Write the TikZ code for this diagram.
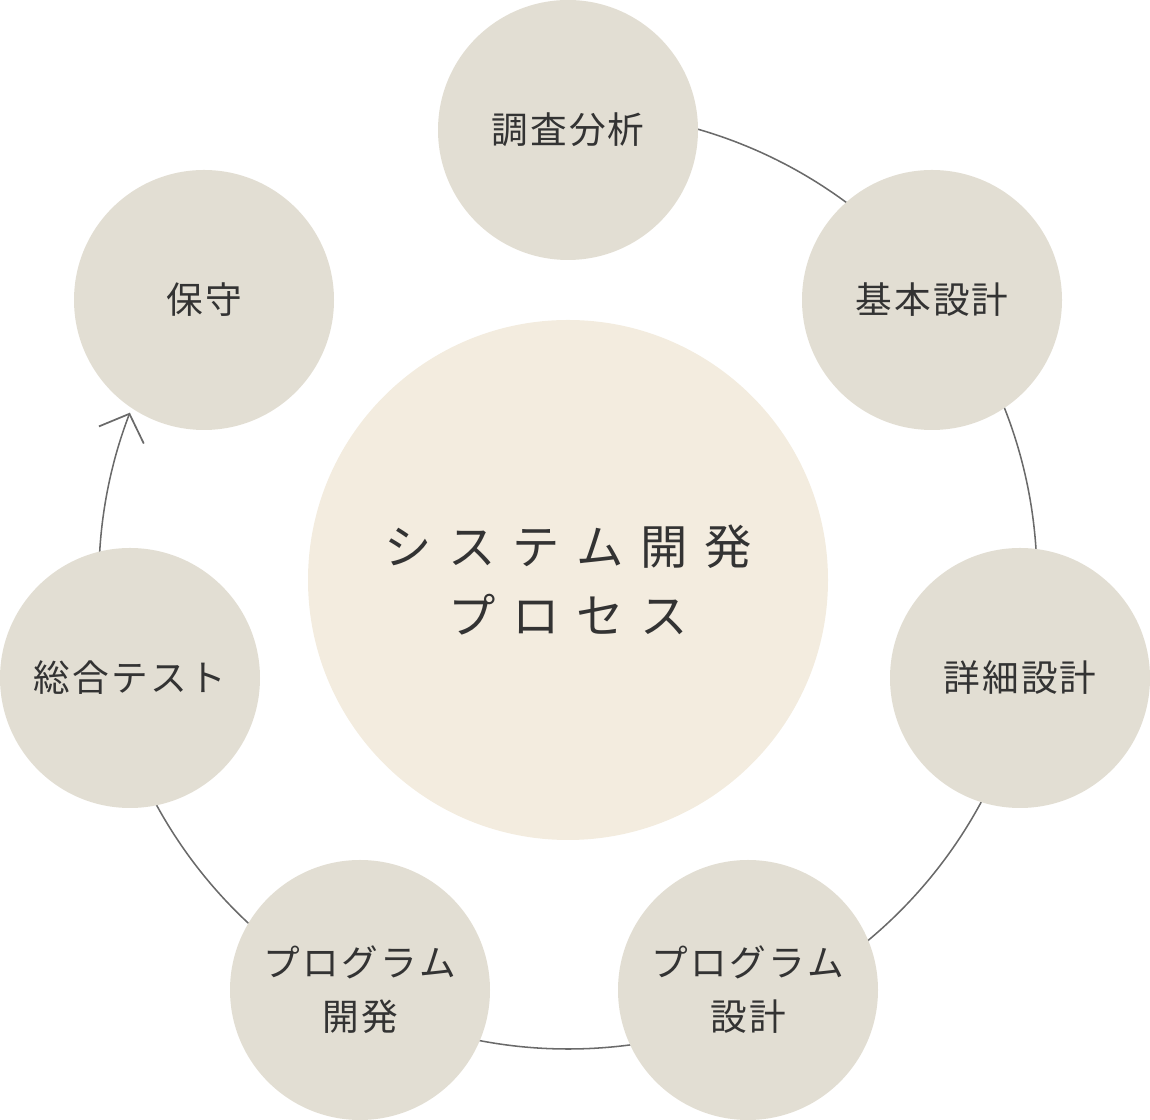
\documentclass[tikz,border=0pt]{standalone}
\usepackage{fontspec}
\newfontfamily\jpfont{Noto Sans CJK JP}
\usetikzlibrary{arrows.meta}
\definecolor{stepfill}{HTML}{E2DED3}
\definecolor{hubfill}{HTML}{F3ECDF}
\definecolor{txt}{HTML}{333333}
\definecolor{ringcol}{HTML}{6A6A6A}
\newcommand\wgap{\hspace{0.35em}}
\newcommand\ngap{\hspace{0.06em}}
\begin{document}
\begin{tikzpicture}[x=0.75pt,y=0.75pt,
  stepnode/.style={circle,fill=stepfill,minimum size=195pt,inner sep=0pt,align=center,
    text=txt,font=\jpfont\fontsize{27.5}{40.5}\selectfont},
  hubnode/.style={circle,fill=hubfill,minimum size=390pt,inner sep=0pt,align=center,
    text=txt,font=\jpfont\fontsize{35.5}{50.25}\selectfont},
  ringline/.style={draw=ringcol,line width=1.15pt}]
\useasboundingbox (0,0) rectangle (1150,1120);
\coordinate (hubc) at (568,540);
\draw[ringline,-{Straight Barb[length=17pt,width=36pt,line width=1.3pt]}]
  (hubc) ++(90:469) arc[start angle=90,end angle=-200.9,radius=469];
\node[hubnode] (hub) at (hubc) {シ\wgap ス\wgap テ\wgap ム\wgap 開\wgap 発\\[2pt]プ\wgap ロ\wgap セ\wgap ス};
\node[stepnode] (s1) at (568,990) {調\ngap 査\ngap 分\ngap 析};
\node[stepnode] (s2) at (932,820) {基\ngap 本\ngap 設\ngap 計};
\node[stepnode] (s3) at (1020,442) {詳\ngap 細\ngap 設\ngap 計};
\node[stepnode] (s4) at (748,130) {プ\ngap ロ\ngap グ\ngap ラ\ngap ム\\設\ngap 計};
\node[stepnode] (s5) at (360,130) {プ\ngap ロ\ngap グ\ngap ラ\ngap ム\\開\ngap 発};
\node[stepnode] (s6) at (130,442) {総\ngap 合\ngap テ\ngap ス\ngap ト};
\node[stepnode] (s7) at (204,820) {保\ngap 守};
\end{tikzpicture}
\end{document}
